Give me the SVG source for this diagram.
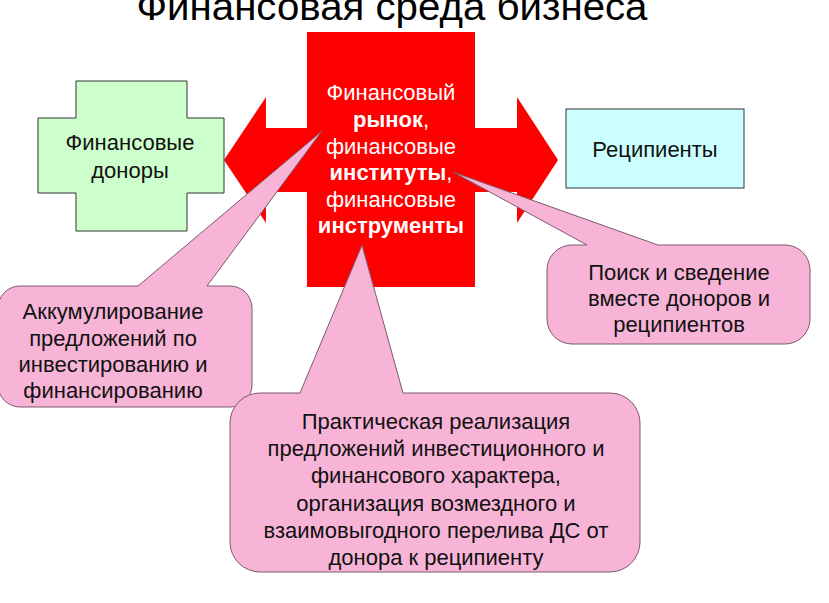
<svg xmlns="http://www.w3.org/2000/svg" width="829" height="603" viewBox="0 0 829 603">
<style>
text{font-family:"Liberation Sans",Arial,sans-serif;text-anchor:middle;}
.t{font-size:22px;fill:#111;}
.w{font-size:22px;fill:#fff;}
.b{font-weight:bold;}
.callout{fill:#f7b4d7;stroke:#7a5a6a;stroke-width:1;}
</style>
<rect width="829" height="603" fill="#fff"/>
<text id="title" x="392" y="20" font-size="38" fill="#000" textLength="511" lengthAdjust="spacingAndGlyphs">Финансовая среда бизнеса</text>
<g id="market">
<polygon points="307,32 475,32 475,128 517,128 517,97 558,160 517,223 517,192 475,192 475,287 307,287 307,192 266,192 266,223 224,160 266,97 266,128 307,128" fill="#ff0000"/>
<text class="w" x="391" y="100">Финансовый</text>
<text class="w" x="391" y="127"><tspan class="b">рынок</tspan>,</text>
<text class="w" x="391" y="154">финансовые</text>
<text class="w" x="391" y="180"><tspan class="b">институты</tspan>,</text>
<text class="w" x="391" y="207">финансовые</text>
<text class="w" x="391" y="233"><tspan class="b">инструменты</tspan></text>
</g>
<g id="donors">
<polygon points="76,81 187,81 187,118 224,118 224,193 187,193 187,231 76,231 76,193 38,193 38,118 76,118" fill="#ccffcc" stroke="#333" stroke-width="1"/>
<text class="t" x="130" y="150">Финансовые</text>
<text class="t" x="130" y="178">доноры</text>
</g>
<g id="recipients">
<rect x="566" y="109" width="178" height="79" fill="#ccffff" stroke="#333" stroke-width="1"/>
<text class="t" x="655" y="157">Реципиенты</text>
</g>
<g id="connectors">
<path id="callout-left" class="callout" d="M20,286 L138,286 L322,131 L207,286 L230,286 A22,22 0 0 1 252,308 L252,385 A22,22 0 0 1 230,407 L20,407 A22,22 0 0 1 -2,385 L-2,308 A22,22 0 0 1 20,286 Z"/>
<path id="callout-right" class="callout" d="M572,245 L587,245 L453,172 L658,245 L785,245 A25,25 0 0 1 810,270 L810,319 A25,25 0 0 1 785,344 L572,344 A25,25 0 0 1 547,319 L547,270 A25,25 0 0 1 572,245 Z"/>
<path id="callout-bottom" class="callout" d="M260,393 L300,393 L362,245 L403,393 L610,393 A30,30 0 0 1 640,423 L640,542 A30,30 0 0 1 610,572 L260,572 A30,30 0 0 1 230,542 L230,423 A30,30 0 0 1 260,393 Z"/>
</g>
<g id="note-left">
<text class="t" x="113" y="319">Аккумулирование</text>
<text class="t" x="113" y="346">предложений по</text>
<text class="t" x="113" y="372">инвестированию и</text>
<text class="t" x="113" y="398">финансированию</text>
</g>
<g id="note-right">
<text class="t" x="679" y="280">Поиск и сведение</text>
<text class="t" x="679" y="306">вместе доноров и</text>
<text class="t" x="679" y="332">реципиентов</text>
</g>
<g id="note-bottom">
<text class="t" x="436" y="429">Практическая реализация</text>
<text class="t" x="436" y="456">предложений инвестиционного и</text>
<text class="t" x="436" y="483">финансового характера,</text>
<text class="t" x="436" y="511">организация возмездного и</text>
<text class="t" x="436" y="538">взаимовыгодного перелива ДС от</text>
<text class="t" x="436" y="565">донора к реципиенту</text>
</g>
</svg>
